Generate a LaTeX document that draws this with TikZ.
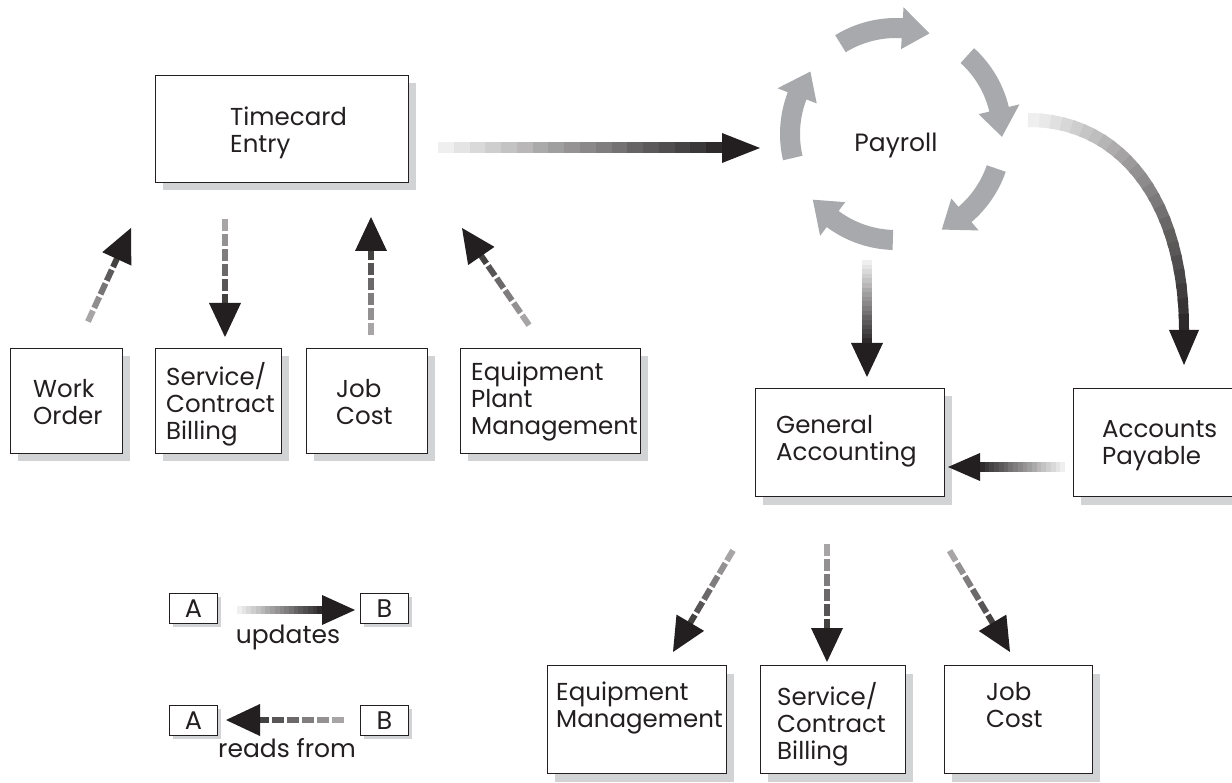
\documentclass[tikz,border=0pt]{standalone}
\usepackage{fontspec}
\setmainfont{Poppins}
\usetikzlibrary{calc,shadows}
\definecolor{dk}{HTML}{231F20}
\definecolor{cyc}{HTML}{A7A9AC}
\definecolor{shd}{HTML}{D1D3D4}
% stepped gradient arrow: tail, tip, shaft width, head length, head half width
\newcommand\gradarrow[5]{%
  \path ($(#2)!#4!(#1)$) coordinate (gabase);
  \foreach \i in {0,...,17}{%
    \pgfmathsetmacro\fa{\i/18}%
    \pgfmathsetmacro\fb{(\i+1.2)/18}%
    \pgfmathtruncatemacro\cc{7+\i*88/17}%
    \draw[line width=#3, draw=dk!\cc!white] ($(#1)!\fa!(gabase)$) -- ($(#1)!\fb!(gabase)$);
  }%
  \fill[dk] (#2) -- ($(gabase)!#5!90:(#2)$) -- ($(gabase)!#5!-90:(#2)$) -- cycle;
}
% dashed "reads" arrow: tail, tip, number of dashes
\newcommand\readarrow[3]{%
  \path ($(#2)!34pt!(#1)$) coordinate (rabase);
  \foreach \i in {1,...,#3}{%
    \pgfmathsetmacro\da{(\i-1)*15-3}%
    \pgfmathsetmacro\db{(\i-1)*15+9}%
    \pgfmathtruncatemacro\cc{85-45*(\i-1)/(#3-1)}%
    \draw[line width=6pt, draw=dk!\cc!white] ($(rabase)!\da pt!(#1)$) -- ($(rabase)!\db pt!(#1)$);
  }%
  \fill[dk] (#2) -- ($(rabase)!16pt!90:(#2)$) -- ($(rabase)!16pt!-90:(#2)$) -- cycle;
}
% one grey arrow of the payroll cycle: start angle, tip angle
\newcommand\cyclearrow[2]{%
  \pgfmathsetmacro\hb{#2+15}%
  \fill[cyc] (#1:116pt) arc[start angle=#1, end angle=\hb, radius=116pt]
    -- (\hb:127pt) -- (#2:106pt) -- (\hb:85pt) -- (\hb:96pt)
    arc[start angle=\hb, end angle=#1, radius=96pt] -- cycle;
}
\begin{document}
\begin{tikzpicture}[x=1pt,y=-1pt,
  box/.style={draw=dk, line width=1pt, fill=white, inner sep=0pt, anchor=north west,
    general shadow={fill=shd, shadow xshift=7pt, shadow yshift=-8pt}},
  lbox/.style={draw=dk, line width=1pt, fill=white, inner sep=0pt, anchor=north west,
    minimum width=48pt, minimum height=30pt, text=dk, font=\fontsize{25.5}{27}\selectfont,
    general shadow={fill=shd, shadow xshift=3pt, shadow yshift=-3pt}},
  lbl/.style={anchor=north west, inner sep=0pt, align=left, text=dk, font=\fontsize{24.5}{27}\selectfont},
  ctr/.style={anchor=base, inner sep=0pt, text=dk, font=\fontsize{25}{27}\selectfont},
]
\useasboundingbox (0,0) rectangle (1232,783);
\fill[white] (0,0) rectangle (1232,783);

% boxes
\node[box, minimum width=253pt, minimum height=107pt] (te) at (155,75) {};
\node[box, minimum width=112pt, minimum height=105pt] (wo) at (10,348) {};
\node[box, minimum width=126pt, minimum height=105pt] (sc1) at (155,348) {};
\node[box, minimum width=121pt, minimum height=105pt] (jc1) at (306,348) {};
\node[box, minimum width=180pt, minimum height=105pt] (ep) at (460,348) {};
\node[box, minimum width=189pt, minimum height=108pt] (ga) at (755,388) {};
\node[box, minimum width=190pt, minimum height=108pt] (ap) at (1073,388) {};
\node[box, minimum width=179pt, minimum height=108pt] (em) at (547,665) {};
\node[box, minimum width=145pt, minimum height=108pt] (sc2) at (760,665) {};
\node[box, minimum width=148pt, minimum height=108pt] (jc2) at (944,665) {};

% box texts
\node[lbl] (te-t) at (230,107) {Timecard\\Entry};
\node[lbl] (wo-t) at (33,379) {Work\\Order};
\node[lbl] (sc1-t) at (166,362) {Service/\\Contract\\Billing};
\node[lbl] (jc1-t) at (336,379) {Job\\Cost};
\node[lbl] (ep-t) at (471,362) {Equipment\\Plant\\Management};
\node[lbl] (ga-t) at (776,415) {General\\Accounting};
\node[lbl] (ap-t) at (1102,420) {Accounts\\Payable};
\node[lbl] (em-t) at (556,682) {Equipment\\Management};
\node[lbl] (sc2-t) at (777,682) {Service/\\Contract\\Billing};
\node[lbl] (jc2-t) at (986,682) {Job\\Cost};

% payroll cycle
\node[ctr] (payroll) at (896,152) {Payroll};
\begin{scope}[shift={(896,134)}]
  \cyclearrow{121.6}{71.6}
  \cyclearrow{47.7}{-1.5}
  \cyclearrow{-19}{-64.4}
  \cyclearrow{-91.7}{-141.7}
  \cyclearrow{193.1}{143.9}
\end{scope}

% update (gradient) arrows
\coordinate (tp-s) at (438,148);  \coordinate (tp-e) at (760,148);
\gradarrow{tp-s}{tp-e}{11pt}{38pt}{15pt}
\coordinate (pg-s) at (867,260);  \coordinate (pg-e) at (867,377);
\gradarrow{pg-s}{pg-e}{10pt}{34pt}{16pt}
\coordinate (ag-s) at (1065,467); \coordinate (ag-e) at (948,467);
\gradarrow{ag-s}{ag-e}{10pt}{32pt}{14pt}

% curved payroll -> accounts payable
\coordinate (apS) at (1028,120);
\coordinate (apC1) at (1120,120);
\coordinate (apC2) at (1184,200);
\coordinate (apE) at (1184,330);
\coordinate (apT) at (1184,365);
\foreach \i in {0,...,23}{%
  \pgfmathsetmacro\ta{\i/24}%
  \pgfmathsetmacro\tb{min(1,(\i+1.3)/24)}%
  \pgfmathtruncatemacro\cc{7+\i*88/23}%
  \pgfmathsetmacro\lw{14-4*\i/23}%
  \colorlet{segc}{dk!\cc!white}%
  \begin{pgfscope}
    \pgfsetlinewidth{\lw pt}%
    \pgfsetstrokecolor{segc}%
    \pgfpathcurvebetweentime{\ta}{\tb}{\pgfpointanchor{apS}{center}}{\pgfpointanchor{apC1}{center}}{\pgfpointanchor{apC2}{center}}{\pgfpointanchor{apE}{center}}%
    \pgfusepath{stroke}%
  \end{pgfscope}
}
\fill[dk] (apT) -- ($(apE)!15pt!90:(apT)$) -- ($(apE)!15pt!-90:(apT)$) -- cycle;

% reads-from (dashed) arrows
\coordinate (r1s) at (85,328);  \coordinate (r1e) at (131,228);
\readarrow{r1s}{r1e}{5}
\coordinate (r2s) at (225,217); \coordinate (r2e) at (225,337);
\readarrow{r2s}{r2e}{6}
\coordinate (r3s) at (371,337); \coordinate (r3e) at (371,217);
\readarrow{r3s}{r3e}{6}
\coordinate (r4s) at (531,328); \coordinate (r4e) at (462,228);
\readarrow{r4s}{r4e}{6}
\coordinate (r5s) at (735,547); \coordinate (r5e) at (673,652);
\readarrow{r5s}{r5e}{6}
\coordinate (r6s) at (827,540); \coordinate (r6e) at (827,662);
\readarrow{r6s}{r6e}{6}
\coordinate (r7s) at (948,548); \coordinate (r7e) at (1010,652);
\readarrow{r7s}{r7e}{6}

% legend
\node[lbox] (la1) at (169,593) {A};
\node[lbox] (lb1) at (360,593) {B};
\node[lbox] (la2) at (169,705) {A};
\node[lbox] (lb2) at (360,705) {B};
\coordinate (lu-s) at (237,610); \coordinate (lu-e) at (355,610);
\gradarrow{lu-s}{lu-e}{8pt}{33pt}{15pt}
\coordinate (lr-s) at (348,720); \coordinate (lr-e) at (226,720);
\readarrow{lr-s}{lr-e}{6}
\node[ctr] (upd) at (288,643) {updates};
\node[ctr] (rdf) at (287,757) {reads from};
\end{tikzpicture}
\end{document}
